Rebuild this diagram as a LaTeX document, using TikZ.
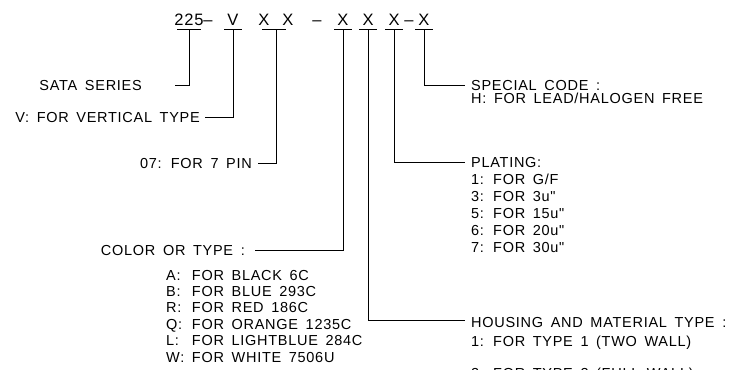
\documentclass[tikz,border=0pt]{standalone}
\usepackage{fontspec}
\newfontfamily\cadfont{Liberation Sans}[WordSpace=1.6, LetterSpace=5]
\usetikzlibrary{calc}

\begin{document}
\begin{tikzpicture}[x=1pt, y=-1pt,
  lbl/.style = {font=\cadfont\fontsize{14.5}{16}\selectfont,
    inner sep=0pt, text height=10.4pt, text depth=0pt},
  lst/.style = {font=\cadfont\fontsize{14.5}{16}\selectfont,
    inner sep=0pt, anchor=base west},
  code/.style = {font=\cadfont\fontsize{16.5}{18}\selectfont,
    text height=11.8pt, text depth=0pt, inner ysep=3.6pt, inner xsep=0pt},
  lead/.style = {line width=0.8pt, black}
]
\clip (0,0) rectangle (740,370);

% part number fields
\node[code] (f225) at (189,20) {225};
\node[code] (d1)   at (208,20) {\textendash};
\node[code] (fV)   at (233,20) {V};
\node[code] (fX1)  at (264,20) {X};
\node[code] (fX2)  at (288,20) {X};
\node[code] (d2)   at (317,20) {\textendash};
\node[code] (fC)   at (343,20) {X};
\node[code] (fH)   at (368,20) {X};
\node[code] (fP)   at (394,20) {X};
\node[code] (d3)   at (409,20) {\textendash};
\node[code] (fS)   at (424,20) {X};

% underlines
\foreach \f/\w in {f225/12, fV/9, fC/9, fH/9, fP/9, fS/9}
  \draw[lead] ([xshift=-\w]\f.south) -- ([xshift=\w]\f.south);
\draw[lead] ([xshift=-2]fX1.south) -- ([xshift=-2]fX2.south);
\coordinate (fPin) at ($(fX1.south)!0.5!(fX2.south)$);

% left side labels
\node[lbl, anchor=east] (lSata) at (142,85)  {SATA SERIES};
\node[lbl, anchor=east] (lVert) at (200,117) {V: FOR VERTICAL TYPE};
\node[lbl, anchor=east] (lPin)  at (252,163) {07: FOR 7 PIN};
\node[lbl, anchor=east] (lCol)  at (245,250) {COLOR OR TYPE :};
\node[lst] (lColList) at (166,280) {\def\arraystretch{1.025}%
  \begin{tabular}[t]{@{}l@{ }l@{}}
  A: & FOR BLACK 6C\\
  B: & FOR BLUE 293C\\
  R: & FOR RED 186C\\
  Q: & FOR ORANGE 1235C\\
  L: & FOR LIGHTBLUE 284C\\
  W: & FOR WHITE 7506U
  \end{tabular}};

% right side labels
\node[lst] (lSpec) at (471,90) {\def\arraystretch{0.72}%
  \begin{tabular}[t]{@{}l@{}}
  SPECIAL CODE :\\
  H: FOR LEAD/HALOGEN FREE
  \end{tabular}};
\node[lst] (lPlat) at (471,167) {\def\arraystretch{1.05}%
  \begin{tabular}[t]{@{}l@{}}
  PLATING:\\[1pt]
  1: FOR G/F\\
  3: FOR 3u"\\
  5: FOR 15u"\\
  6: FOR 20u"\\
  7: FOR 30u"
  \end{tabular}};
\node[lst] (lHous) at (471,327) {%
  \begin{tabular}[t]{@{}l@{}}
  HOUSING AND MATERIAL TYPE :\\[3pt]
  1: FOR TYPE 1 (TWO WALL)\\[16pt]
  2: FOR TYPE 2 (FULL WALL)
  \end{tabular}};

% free ends of the leaders
\coordinate (eSata) at (175,85);
\coordinate (eVert) at (205,117);
\coordinate (ePin)  at (258,163);
\coordinate (eCol)  at (255,250);
\coordinate (eSpec) at (465,85);
\coordinate (ePlat) at (465,162);
\coordinate (eHous) at (465,320);

% leaders
\draw[lead] (f225.south) |- (eSata);
\draw[lead] (fV.south)   |- (eVert);
\draw[lead] (fPin)       |- (ePin);
\draw[lead] (fC.south)   |- (eCol);
\draw[lead] (fS.south)   |- (eSpec);
\draw[lead] (fP.south)   |- (ePlat);
\draw[lead] (fH.south)   |- (eHous);
\end{tikzpicture}
\end{document}
